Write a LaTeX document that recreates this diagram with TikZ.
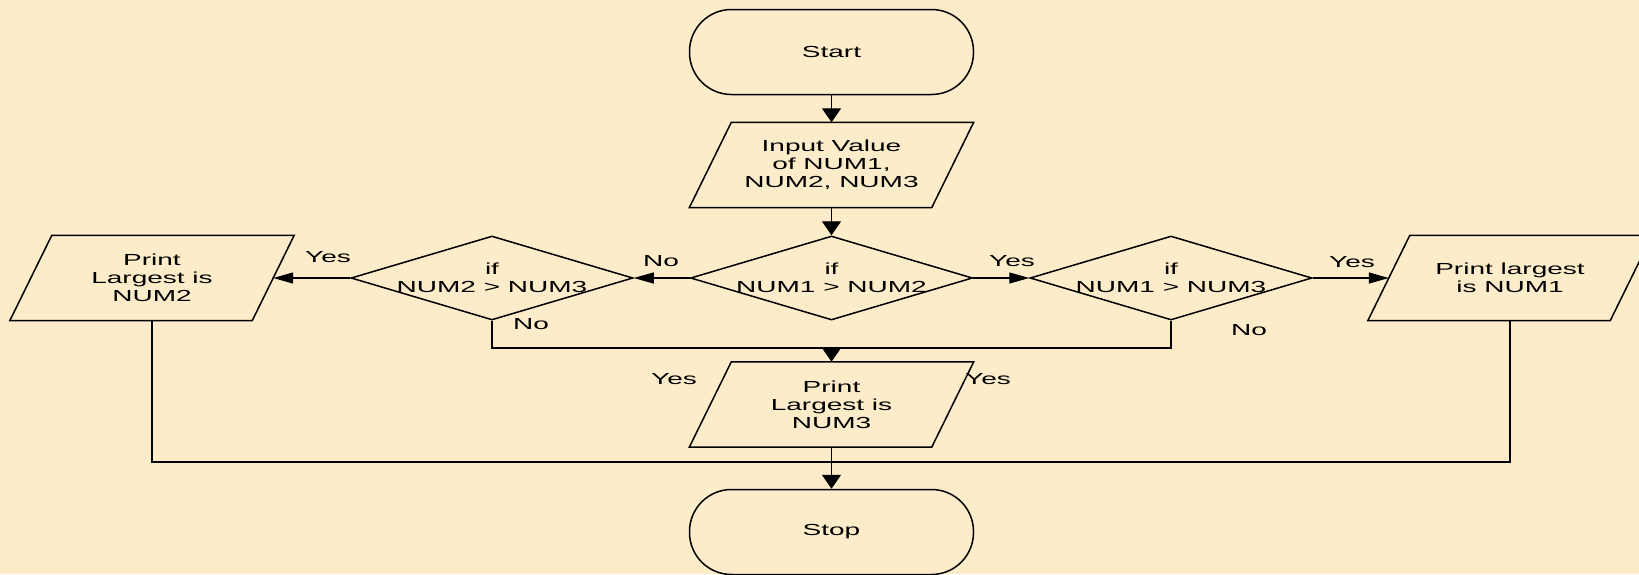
\documentclass[tikz,border=0pt]{standalone}
\usepackage{fontspec}
\setmainfont{Liberation Sans}[FakeStretch=1.75]
\usetikzlibrary{shapes.geometric,arrows.meta,calc}
\definecolor{paper}{RGB}{252,236,201}

% slanted input/output box drawn round a named rectangle node
\newcommand\slantbox[1]{%
  \draw[para] ($(#1.south west)+(-21,0)$) -- ($(#1.south east)+(-21,0)$)
    -- ($(#1.north east)+(21,0)$) -- ($(#1.north west)+(21,0)$) -- cycle;}

\begin{document}
\begin{tikzpicture}[x=1pt,y=-1pt,
  font=\fontsize{16}{17.8}\selectfont,
  every node/.style={inner sep=0pt},
  terminal/.style={draw, line width=1.5pt, rounded corners=42pt,
    minimum width=284pt, minimum height=85pt},
  iobox/.style={minimum width=242pt, minimum height=85pt, align=center},
  para/.style={line width=1.5pt, line join=miter},
  decision/.style={draw, diamond, line width=1.5pt,
    minimum width=282pt, minimum height=84pt},
  dtext/.style={align=center},
  link/.style={line width=1.3pt},
  varr/.style={link, -{Triangle[length=14pt,width=19pt]}},
  harr/.style={link, -{Triangle[length=20pt,width=11pt]}}]

\useasboundingbox (0,0) rectangle (1639,574);
\fill[paper] (0,0) rectangle (1639,574);

% terminals
\node[terminal] (start) at (831.5,52) {Start};
\node[terminal] (stop) at (831.5,532) {Stop};

% input / output boxes
\node[iobox] (in) at (831.5,165) {Input Value\\of NUM1,\\NUM2, NUM3};
\node[iobox] (p2) at (152,278) {Print\\Largest is\\NUM2};
\node[iobox] (p1) at (1510,278) {Print largest\\is NUM1};
\node[iobox] (p3) at (831.5,404.5) {Print\\Largest is\\NUM3};
\slantbox{in}
\slantbox{p2}
\slantbox{p1}
\slantbox{p3}

% decisions
\node[decision] (d1) at (831.5,278) {};
\node[decision] (d2) at (492,278) {};
\node[decision] (d3) at (1171,278) {};
\node[dtext] (d1t) at (d1) {if\\NUM1 > NUM2};
\node[dtext] (d2t) at (d2) {if\\NUM2 > NUM3};
\node[dtext] (d3t) at (d3) {if\\NUM1 > NUM3};

% junction points
\coordinate (mid) at (831.5,348);
\coordinate (bus) at (831.5,462);

% connectors
\draw[varr] (start) -- (in);
\draw[varr] (in) -- (d1);
\draw[harr] (d1.west) -- (d2.east);
\draw[harr] (d1.east) -- (d3.west);
\draw[harr] (d3.east) -- (p1.west);
\draw[harr] (d2.west) -- (p2.east);
\draw[link] (d2.south) |- (mid);
\draw[link] (d3.south) |- (mid);
\draw[varr] (mid) -- (p3);
\draw[link] (p2.south) |- (bus);
\draw[link] (p1.south) |- (bus);
\draw[link] (p3.south) -- (bus);
\draw[varr] (bus) -- (stop);

% branch labels
\node (y2) at (328,257) {Yes};
\node (n1) at (661,261) {No};
\node (y1) at (1012,261) {Yes};
\node (y3) at (1352,262) {Yes};
\node (n2) at (531,324) {No};
\node (n3) at (1249,330) {No};
\node (y4) at (674,379) {Yes};
\node (y5) at (988,379) {Yes};
\end{tikzpicture}
\end{document}
